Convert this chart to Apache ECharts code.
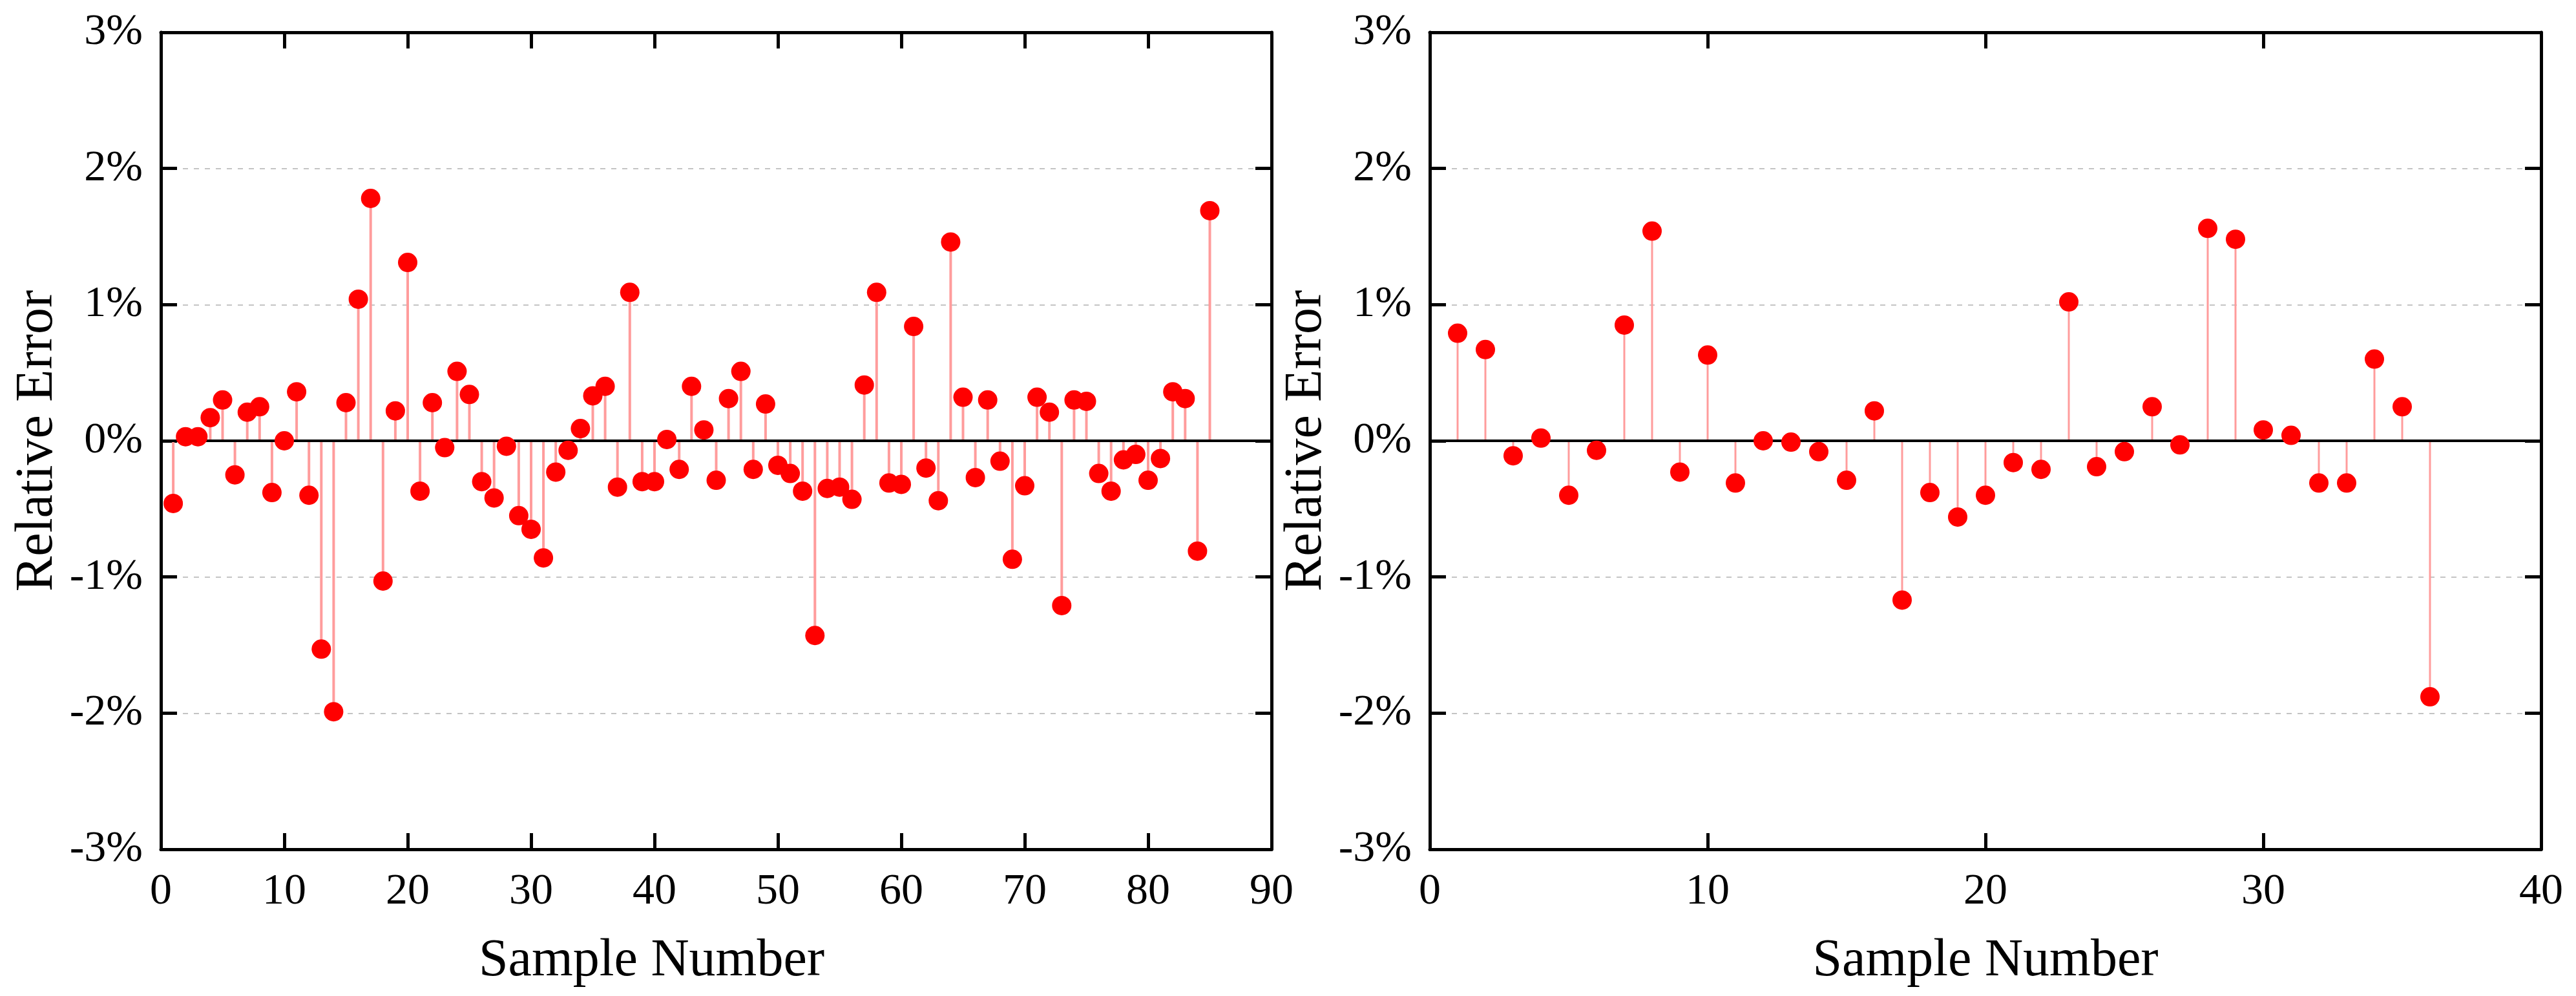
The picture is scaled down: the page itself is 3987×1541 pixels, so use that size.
<!DOCTYPE html>
<html>
<head>
<meta charset="utf-8">
<script src="https://cdn.jsdelivr.net/npm/echarts@6/dist/echarts.min.js"></script>
<style>
  html, body { margin: 0; padding: 0; background: #fff; }
  #chart { width: 3987px; height: 1541px; }
</style>
</head>
<body>
<div id="chart"></div>
<script>
// 两幅相对误差棒棒图:左 85 个样本,右 36 个样本
const leftSamples = [1,2,3,4,5,6,7,8,9,10,11,12,13,14,15,16,17,18,19,20,21,22,23,24,25,26,27,28,29,30,
  31,32,33,34,35,36,37,38,39,40,41,42,43,44,45,46,47,48,49,50,51,52,53,54,55,56,57,58,59,60,
  61,62,63,64,65,66,67,68,69,70,71,72,73,74,75,76,77,78,79,80,81,82,83,84,85];
const leftErrors = [-0.46, 0.03, 0.03, 0.17, 0.30, -0.25, 0.21, 0.25, -0.38, 0.00,
  0.36, -0.40, -1.53, -1.99, 0.28, 1.04, 1.78, -1.03, 0.22, 1.31,
  -0.37, 0.28, -0.05, 0.51, 0.34, -0.30, -0.42, -0.04, -0.55, -0.65,
  -0.86, -0.23, -0.07, 0.09, 0.33, 0.40, -0.34, 1.09, -0.30, -0.30,
  0.01, -0.21, 0.40, 0.08, -0.29, 0.31, 0.51, -0.21, 0.27, -0.18,
  -0.24, -0.37, -1.43, -0.35, -0.34, -0.43, 0.41, 1.09, -0.31, -0.32,
  0.84, -0.20, -0.44, 1.46, 0.32, -0.27, 0.30, -0.15, -0.87, -0.33,
  0.32, 0.21, -1.21, 0.30, 0.29, -0.24, -0.37, -0.14, -0.10, -0.29,
  -0.13, 0.36, 0.31, -0.81, 1.69];

const rightSamples = [1,2,3,4,5,6,7,8,9,10,11,12,13,14,15,16,17,18,19,20,
  21,22,23,24,25,26,27,28,29,30,31,32,33,34,35,36];
const rightErrors = [0.79, 0.67, -0.11, 0.02, -0.40, -0.07, 0.85, 1.54, -0.23, 0.63,
  -0.31, 0.00, -0.01, -0.08, -0.29, 0.22, -1.17, -0.38, -0.56, -0.40,
  -0.16, -0.21, 1.02, -0.19, -0.08, 0.25, -0.03, 1.56, 1.48, 0.08,
  0.04, -0.31, -0.31, 0.60, 0.25, -1.88];

const yTicks = [-3, -2, -1, 0, 1, 2, 3];
const xMaxLeft = 90, xMaxRight = 40;

const FONT = "'Liberation Serif', 'DejaVu Serif', serif";
const tick = { show: true, inside: true, length: 25, lineStyle: { color: "#000", width: 5 } };
const frame = { show: true, onZero: false, lineStyle: { color: "#000", width: 5 } };

function pairs(xs, ys) { return xs.map((x, i) => [x, ys[i]]); }

// 左图的横轴标题在原图里略偏左,用右侧 padding 把它往左推
function xAxes(grid, max, titlePad) {
  return [
    {
      gridIndex: grid, type: "value", position: "bottom", min: 0, max, interval: 10,
      axisLine: frame, axisTick: tick, splitLine: { show: false },
      axisLabel: { margin: 32, fontFamily: FONT, fontSize: 68, color: "#000" },
      name: "Sample Number", nameLocation: "middle", nameGap: 132,
      nameTextStyle: { fontFamily: FONT, fontSize: 82, color: "#000", padding: [0, titlePad, 0, 0] },
    },
    {
      gridIndex: grid, type: "value", position: "top", min: 0, max, interval: 10,
      axisLine: frame, axisTick: tick, axisLabel: { show: false }, splitLine: { show: false },
    },
  ];
}

function yAxes(grid) {
  return [
    {
      gridIndex: grid, type: "value", position: "left", min: yTicks[0], max: yTicks[yTicks.length - 1], interval: 1,
      axisLine: frame, axisTick: tick,
      axisLabel: { margin: 28, fontFamily: FONT, fontSize: 68, color: "#000", formatter: v => v + "%" },
      splitLine: { show: true, lineStyle: { color: "#c4c4c4", width: 2, type: [8, 9] } },
      name: "Relative Error", nameLocation: "middle", nameGap: 150,
      nameTextStyle: { fontFamily: FONT, fontSize: 82, color: "#000" },
    },
    {
      gridIndex: grid, type: "value", position: "right", min: yTicks[0], max: yTicks[yTicks.length - 1], interval: 1,
      axisLine: frame, axisTick: tick, axisLabel: { show: false }, splitLine: { show: false },
    },
  ];
}

function stemSeries(axis, data, width) {
  return [
    {
      type: "bar", xAxisIndex: axis * 2, yAxisIndex: axis * 2, data, barWidth: width, z: 2,
      itemStyle: { color: "#ff9c9c" },
      markLine: {
        silent: true, symbol: ["none", "none"], label: { show: false },
        lineStyle: { color: "#000", width: 4, type: "solid" },
        data: [{ yAxis: 0 }],
      },
    },
    {
      type: "scatter", xAxisIndex: axis * 2, yAxisIndex: axis * 2, data, symbolSize: 30, z: 10,
      itemStyle: { color: "#ff0000", opacity: 1 },
    },
  ];
}

const chart = echarts.init(document.getElementById("chart"));
chart.setOption({
  animation: false,
  backgroundColor: "#fff",
  grid: [
    { left: 249, top: 50, width: 1719, height: 1264 },
    { left: 2213, top: 50, width: 1720, height: 1264 },
  ],
  xAxis: [...xAxes(0, xMaxLeft, 200), ...xAxes(1, xMaxRight, 0)],
  yAxis: [...yAxes(0), ...yAxes(1)],
  series: [
    ...stemSeries(0, pairs(leftSamples, leftErrors), 4),
    ...stemSeries(1, pairs(rightSamples, rightErrors), 3),
  ],
});
</script>
</body>
</html>
